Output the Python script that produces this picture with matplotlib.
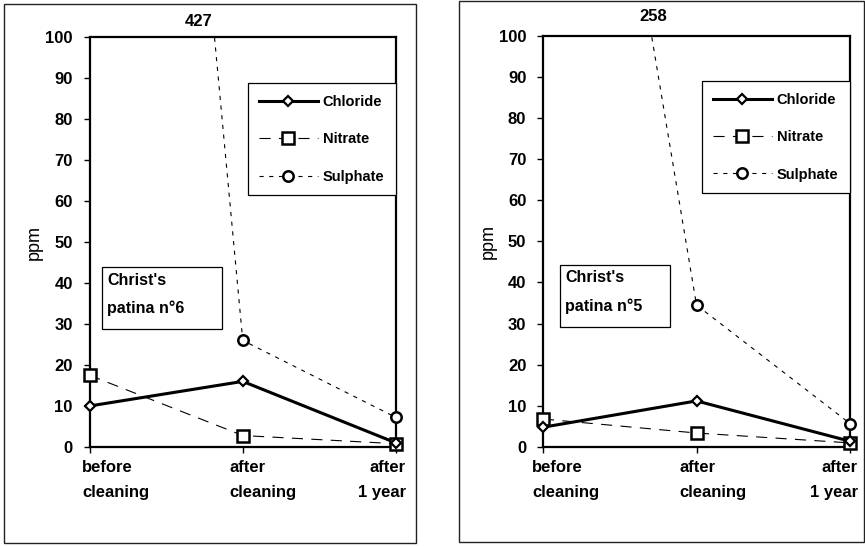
import numpy as np
import matplotlib
matplotlib.use("Agg")
import matplotlib.pyplot as plt
from matplotlib.patches import Rectangle
from matplotlib.lines import Line2D

plt.rcParams['font.family'] = ['Liberation Sans', 'DejaVu Sans']
plt.rcParams['font.weight'] = 'bold'
plt.rcParams['lines.scale_dashes'] = False

# Données
categories = [("before", "cleaning"), ("after", "cleaning"), ("after", "1 year")]
x = np.arange(len(categories))

chloride_6 = [10, 16, 1]
nitrate_6 = [17.5, 2.8, 0.8]
sulphate_6 = [427, 26, 7.2]

chloride_5 = [4.8, 11.2, 1.4]
nitrate_5 = [6.8, 3.4, 1.0]
sulphate_5 = [258, 34.5, 5.7]

yticks = np.arange(0, 101, 10)

FS = 12
st_chl = dict(color='black', lw=2.2, ls='-')
st_nit = dict(color='black', lw=0.8, ls=(0, (8, 6)))
st_sul = dict(color='black', lw=0.8, ls=(0, (3, 4)))
mk_chl = dict(marker='D', ms=5.5, mfc='white', mec='black', mew=1.6)
mk_nit = dict(marker='s', ms=8, mfc='white', mec='black', mew=1.8)
mk_sul = dict(marker='o', ms=7.5, mfc='white', mec='black', mew=1.8)


def draw_panel(ax, chl, nit, sul, label, box, text_xy, peak_x, peak_y, lab_off, leg_top):
    # lignes (coupées en haut), marqueurs hors clip
    ax.plot(x, nit, **st_nit)
    ax.plot(x, sul, **st_sul)
    ax.plot(x, chl, **st_chl)
    for vals, mk in [(nit, mk_nit), (sul, mk_sul), (chl, mk_chl)]:
        v = np.array(vals, dtype=float)
        v[v > 100] = np.nan
        ax.plot(x, v, ls='none', clip_on=False, zorder=5, **mk)

    ax.set_xlim(0, 2)
    ax.set_ylim(0, 100)
    ax.set_yticks(yticks)
    ax.set_xticks(x)
    ax.set_xticklabels([])
    ax.tick_params(axis='y', direction='out', length=4, width=1, labelsize=FS, pad=8)
    ax.tick_params(axis='x', direction='out', length=4, width=1)
    for s in ax.spines.values():
        s.set_linewidth(1.6)
    ax.set_ylabel("ppm", fontsize=13, fontweight='normal')
    ax.yaxis.set_label_coords(-0.152, 0.5)

    # étiquettes de catégories
    for i, (l1, l2) in enumerate(categories):
        ha = 'right' if i == 2 else 'left'
        for j, txt in enumerate((l1, l2)):
            ax.annotate(txt, xy=(x[i], 0), xycoords=('data', 'axes fraction'),
                        xytext=(lab_off[i], -21 - 24 * j), textcoords='offset pixels',
                        ha=ha, va='center', fontsize=FS, annotation_clip=False)

    # valeur hors échelle
    ax.text(peak_x, peak_y, str(sul[0]), transform=ax.get_xaxis_transform(),
            ha='center', va='center', fontsize=FS)

    # encadré
    bx0, by0, bx1, by1 = box
    ax.add_patch(Rectangle((bx0, by0), bx1 - bx0, by1 - by0, transform=ax.transAxes,
                           fill=True, facecolor='white', edgecolor='black', lw=0.9, zorder=6))
    tx, ty1, ty2 = text_xy
    ax.text(tx, ty1, "Christ's", transform=ax.transAxes, ha='left', va='center',
            fontsize=11.5, zorder=7)
    ax.text(tx, ty2, label, transform=ax.transAxes, ha='left', va='center',
            fontsize=11.5, zorder=7)

    handles = [Line2D([], [], **st_chl, **mk_chl),
               Line2D([], [], **st_nit, **mk_nit),
               Line2D([], [], **st_sul, **mk_sul)]
    leg = ax.legend(handles, ["Chloride", "Nitrate", "Sulphate"], loc='upper right',
                    bbox_to_anchor=(1.0, leg_top), fontsize=10.5, frameon=True,
                    fancybox=False, edgecolor='black', framealpha=1,
                    handlelength=4.0, handletextpad=0.35, labelspacing=1.6,
                    borderpad=0.8, borderaxespad=0, markerscale=1.0)
    leg.get_frame().set_linewidth(0.9)
    leg.set_zorder(8)


fig = plt.figure(figsize=(8.65, 5.46), dpi=100)

# cadres extérieurs
fig.add_artist(Rectangle((4 / 865, 1 - 543 / 546), 412 / 865, 539 / 546,
                         transform=fig.transFigure, fill=False, edgecolor='#222222', lw=1.0))
fig.add_artist(Rectangle((459 / 865, 1 - 542 / 546), 405 / 865, 541 / 546,
                         transform=fig.transFigure, fill=False, edgecolor='#222222', lw=1.0))

ax1 = fig.add_axes([89.5 / 865, 1 - 447 / 546, 306.5 / 865, 410 / 546])
ax2 = fig.add_axes([543 / 865, 1 - 447 / 546, 307 / 865, 411.5 / 546])

draw_panel(ax1, chloride_6, nitrate_6, sulphate_6, "patina n°6",
           box=(0.041, 0.288, 0.432, 0.439), text_xy=(0.057, 0.407, 0.339),
           peak_x=0.71, peak_y=1.038, lab_off=(-7.5, -13, 10), leg_top=0.887)
draw_panel(ax2, chloride_5, nitrate_5, sulphate_5, "patina n°5",
           box=(0.055, 0.292, 0.414, 0.442), text_xy=(0.072, 0.411, 0.343),
           peak_x=0.717, peak_y=1.045, lab_off=(-11, -17.5, 8), leg_top=0.889)

fig.savefig("out.png", dpi=100)
